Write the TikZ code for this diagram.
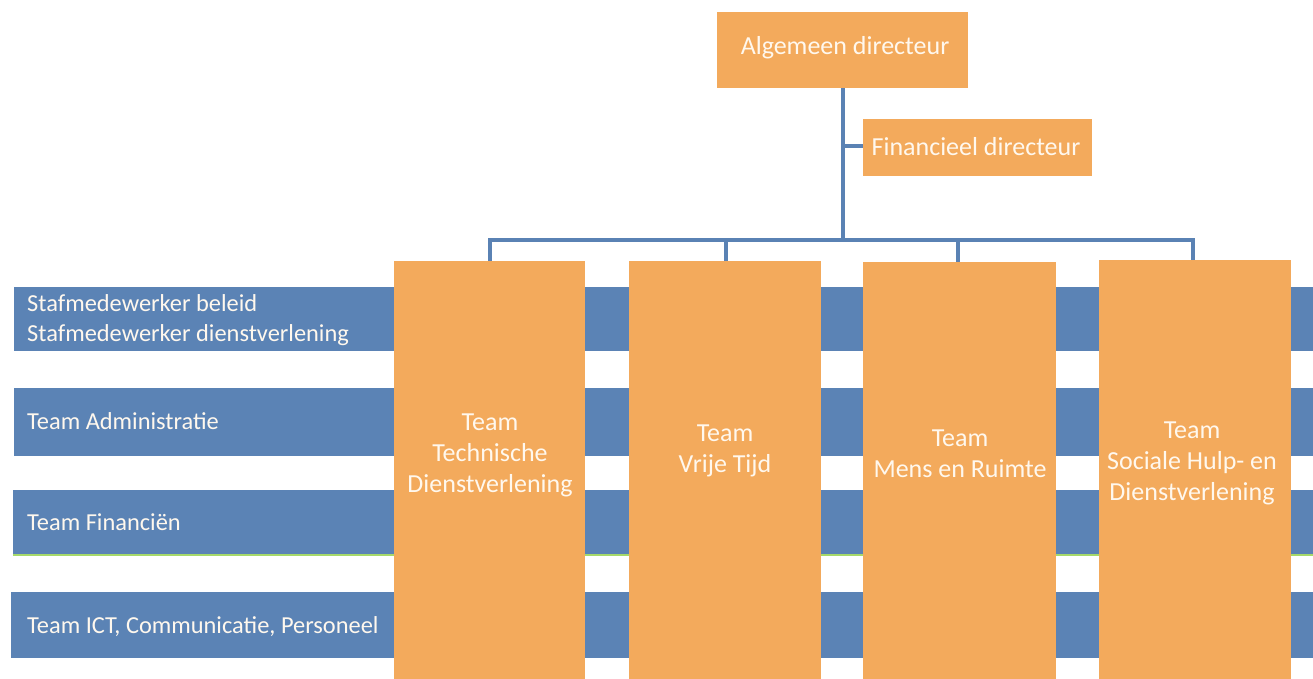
\documentclass[tikz,border=0pt]{standalone}
\usepackage{fontspec}
\setmainfont{Carlito}
\definecolor{orangebox}{HTML}{F3AA5C}
\definecolor{blueband}{HTML}{5B83B5}
\definecolor{lineblue}{HTML}{5A82B4}
\definecolor{greenline}{HTML}{A6D96A}
\definecolor{txt}{HTML}{FFF8EE}
\tikzset{
  obox/.style={fill=orangebox, draw=none, inner sep=0pt},
  boxtext/.style={text=txt, align=center, inner sep=0pt, font=\fontsize{26}{31}\selectfont},
  band/.style={fill=blueband, draw=none},
  bandtext/.style={text=txt, anchor=west, align=left, inner sep=0pt, font=\fontsize{24.4}{30}\selectfont},
  conn/.style={draw=lineblue, line width=3.5pt},
}
\begin{document}
\begin{tikzpicture}[x=1pt,y=-1pt]
\useasboundingbox (0,0) rectangle (1313,679);
\clip (0,0) rectangle (1313,679);
% blue bands
\fill[band] (14,287) rectangle (1313,351);
\fill[band] (14,388) rectangle (1313,456);
\fill[band] (13,490) rectangle (1313,555);
\draw[greenline, line width=1.2pt] (13,555) -- (1313,555);
\fill[band] (11,592) rectangle (1313,658);
\node[bandtext] (b1) at (27,320) {Stafmedewerker beleid\\Stafmedewerker dienstverlening};
\node[bandtext] (b2) at (27,421) {Team Administratie};
\node[bandtext] (b3) at (27,522) {Team Financiën};
\node[bandtext] (b4) at (27,627) {Team ICT, Communicatie, Personeel};
% top boxes
\node[obox, minimum width=251pt, minimum height=76pt] (alg) at (842.5,50) {};
\node[boxtext] (algt) at (845,48) {Algemeen directeur};
\node[obox, minimum width=229pt, minimum height=57pt] (fin) at (977.5,147.5) {};
\node[boxtext] (fint) at (976,147) {Financieel directeur};
% columns
\fill[orangebox] (394,261) rectangle (585,690);
\fill[orangebox] (629,261) rectangle (821,690);
\fill[orangebox] (863,262) rectangle (1056,690);
\fill[orangebox] (1099,260) rectangle (1291,690);
\coordinate (c1) at (490,261);
\coordinate (c2) at (726,261);
\coordinate (c3) at (958,262);
\coordinate (c4) at (1193,260);
\node[boxtext] (t1) at (490,455) {Team\\Technische\\Dienstverlening};
\node[boxtext] (t2) at (725,451) {Team\\Vrije Tijd};
\node[boxtext] (t3) at (960,454) {Team\\Mens en Ruimte};
\node[boxtext] (t4) at (1192,463) {Team\\Sociale Hulp- en\\Dienstverlening};
% connectors
\coordinate (bus) at (843,240);
\coordinate (br) at (843,146);
\draw[conn] (alg.south -| bus) -- (bus);
\draw[conn] (br) -- (fin.west |- br);
\draw[conn, line cap=rect] (c1 |- bus) -- (c4 |- bus);
\draw[conn] (c1 |- bus) -- (c1);
\draw[conn] (c2 |- bus) -- (c2);
\draw[conn] (c3 |- bus) -- (c3);
\draw[conn] (c4 |- bus) -- (c4);
\end{tikzpicture}
\end{document}
